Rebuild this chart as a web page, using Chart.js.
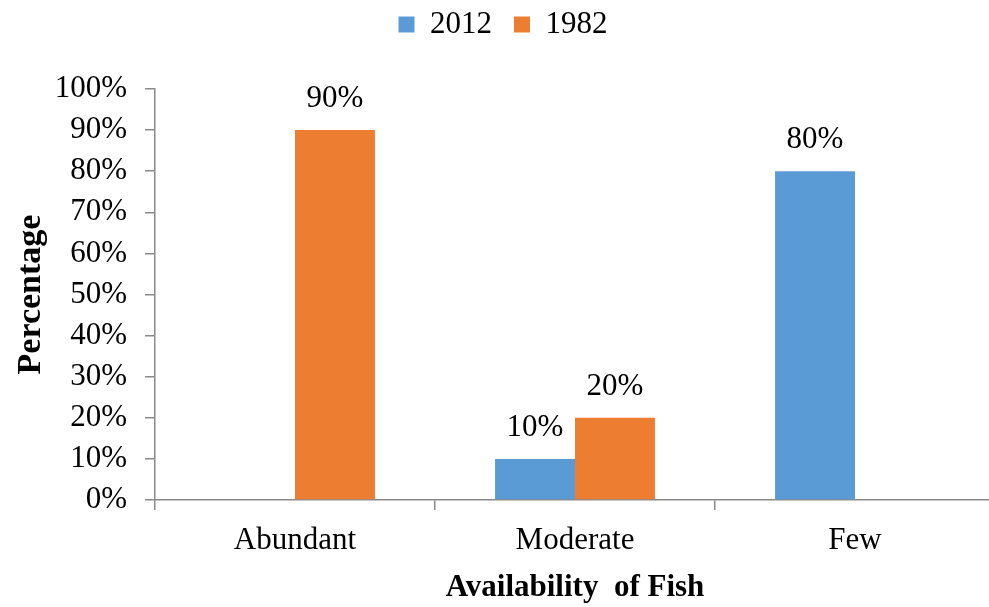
<!DOCTYPE html>
<html>
<head>
<meta charset="utf-8">
<title>Availability of Fish</title>
<script src="https://cdn.jsdelivr.net/npm/chart.js@4.4.1/dist/chart.umd.min.js"></script>
<style>
  html, body { margin: 0; padding: 0; background: #fff; overflow: hidden; }
  #wrap { width: 1000px; height: 607px; position: relative; }
</style>
</head>
<body>
<div id="wrap"><canvas id="chart"></canvas></div>
<script>
// Survey results: perceived availability of fish, 2012 vs 1982
const categories = ['Abundant', 'Moderate', 'Few'];
const seriesNames = ['2012', '1982'];
const values2012 = [0, 10, 80];
const values1982 = [90, 20, 0];
const yTickValues = [0, 10, 20, 30, 40, 50, 60, 70, 80, 90, 100];

const SERIF = '"Liberation Serif", "Times New Roman", serif';
const AXIS_GRAY = '#8a8a8a';
const FONT_SIZE = 31;

// Percentage labels above each non-zero bar
const barValueLabels = {
  id: 'barValueLabels',
  afterDatasetsDraw(chart) {
    const ctx = chart.ctx;
    ctx.save();
    ctx.font = FONT_SIZE + 'px ' + SERIF;
    ctx.fillStyle = '#000';
    ctx.textAlign = 'center';
    ctx.textBaseline = 'alphabetic';
    chart.data.datasets.forEach((ds, di) => {
      const meta = chart.getDatasetMeta(di);
      meta.data.forEach((bar, i) => {
        const v = ds.data[i];
        if (!v) return;
        ctx.fillText(v + '%', bar.x, bar.y - 23);
      });
    });
    ctx.restore();
  }
};

new Chart(document.getElementById('chart'), {
  type: 'bar',
  data: {
    labels: categories,
    datasets: [
      { label: seriesNames[0], data: values2012, backgroundColor: '#5B9BD5' },
      { label: seriesNames[1], data: values1982, backgroundColor: '#ED7D31' }
    ]
  },
  options: {
    responsive: true,
    maintainAspectRatio: false,
    animation: false,
    datasets: {
      bar: { categoryPercentage: 0.571, barPercentage: 1.0 }
    },
    layout: { padding: { left: 11, right: 5, top: -13, bottom: 0 } },
    plugins: {
      tooltip: { enabled: false },
      legend: {
        position: 'top',
        align: 'center',
        labels: {
          font: { family: SERIF, size: FONT_SIZE },
          color: '#000',
          boxWidth: 16,
          boxHeight: 16,
          padding: 22
        }
      },
      // empty spacer box between the legend and the plot
      title: {
        display: true,
        text: '',
        weight: 100,
        font: { size: 1, lineHeight: 1 },
        padding: { top: 0, bottom: 38 }
      }
    },
    scales: {
      x: {
        grid: {
          display: true,
          drawOnChartArea: false,
          drawTicks: true,
          tickLength: 10,
          color: AXIS_GRAY,
          lineWidth: 1.5
        },
        border: { display: true, color: AXIS_GRAY, width: 1.5 },
        ticks: {
          font: { family: SERIF, size: FONT_SIZE },
          color: '#000',
          padding: 12,
          maxRotation: 0
        },
        title: {
          display: true,
          text: 'Availability  of Fish',
          font: { family: SERIF, size: FONT_SIZE, weight: 'bold' },
          color: '#000',
          padding: { top: 3, bottom: 0 }
        },
        afterFit(scale) { scale.height = 107; }
      },
      y: {
        min: 0,
        max: 100,
        afterBuildTicks(scale) {
          scale.ticks = yTickValues.map(v => ({ value: v }));
        },
        grid: {
          display: true,
          drawOnChartArea: false,
          drawTicks: true,
          tickLength: 10,
          color: AXIS_GRAY,
          lineWidth: 1.5
        },
        border: { display: true, color: AXIS_GRAY, width: 1.5 },
        ticks: {
          font: { family: SERIF, size: FONT_SIZE },
          color: '#000',
          padding: 18,
          callback: v => v + '%'
        },
        title: {
          display: true,
          text: 'Percentage',
          font: { family: SERIF, size: 34, weight: 'bold' },
          color: '#000',
          padding: { top: 0, bottom: 0 }
        },
        afterFit(scale) { scale.width = 144; }
      }
    }
  },
  plugins: [barValueLabels]
});
</script>
</body>
</html>
